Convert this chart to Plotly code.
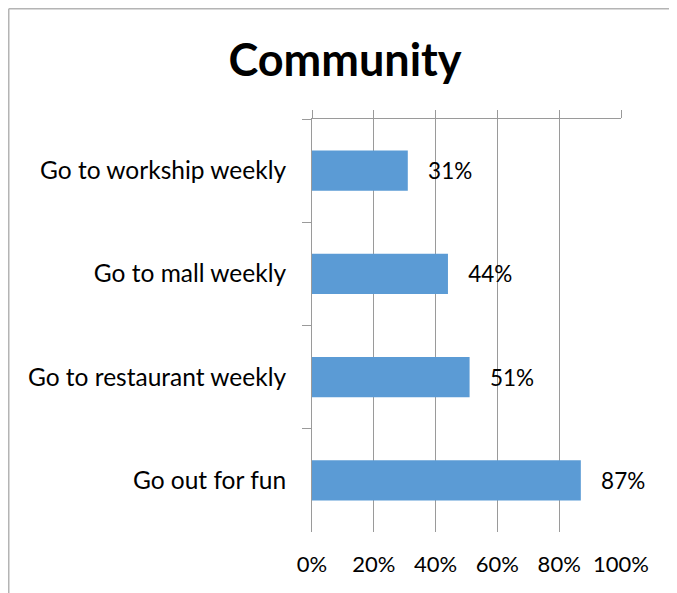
import plotly.graph_objects as go

categories = ["Go to workship weekly", "Go to mall weekly", "Go to restaurant weekly", "Go out for fun"]
values = [0.31, 0.44, 0.51, 0.87]
tick_vals = [0, 0.2, 0.4, 0.6, 0.8, 1.0]
tick_text = ["0%", "20%", "40%", "60%", "80%", "100%"]

FONT = "Lato"
GRID = "#9a9a9a"
W, H = 677, 593
# figure is offset by the page's 8px body margin
L, T = 304, 111
PW, PH = 309, 413
R = W - L - PW
B = H - T - PH

fig = go.Figure()
fig.add_trace(go.Bar(
    x=values, y=categories, orientation="h",
    marker=dict(color="#5B9BD5", line=dict(width=0)),
    text=["\u00a0\u00a0\u00a0" + f"{v:.0%}" for v in values],
    textposition="outside", cliponaxis=False,
    textfont=dict(family=FONT, size=22.5, color="#000000"),
    hoverinfo="skip", showlegend=False,
))
# invisible trace to carry the bottom label axis
fig.add_trace(go.Scatter(
    x=values, y=categories, mode="none", xaxis="x2",
    hoverinfo="skip", showlegend=False,
))

fx0 = (0.75 - L) / PW
fy0 = (H - B - 0.75) / PH
fig.update_layout(
    width=W, height=H,
    margin=dict(l=L, r=R, t=T, b=B, pad=0),
    paper_bgcolor="white", plot_bgcolor="white",
    bargap=0.61,
    title=dict(text="<b>Community</b>", x=337 / W, xanchor="center", xref="container",
               y=1 - 52 / H, yref="container", yanchor="middle",
               font=dict(family=FONT, size=45, color="#000000")),
    xaxis=dict(range=[0, 1], side="top", tickvals=tick_vals, showticklabels=False,
               showgrid=True, gridcolor=GRID, gridwidth=1,
               showline=True, linecolor=GRID, linewidth=1,
               ticks="outside", ticklen=8, tickcolor=GRID, zeroline=False),
    xaxis2=dict(range=[0, 1], overlaying="x", side="bottom", tickvals=tick_vals,
                ticktext=tick_text, showgrid=False, showline=False, ticks="",
                ticklabelstandoff=17, zeroline=False,
                tickfont=dict(family=FONT, size=22, color="#000000")),
    yaxis=dict(autorange="reversed", type="category", categoryorder="array",
               categoryarray=categories, showline=True, linecolor=GRID, linewidth=1,
               ticks="outside", tickson="boundaries", ticklen=9, tickcolor=GRID,
               showgrid=False, ticklabelstandoff=20,
               tickfont=dict(family=FONT, size=24.5, color="#000000")),
    shapes=[
        dict(type="line", xref="paper", yref="paper",
             x0=fx0, x1=(W + 5 - L) / PW, y0=fy0, y1=fy0,
             line=dict(color="#b4b4b4", width=1.5)),
        dict(type="line", xref="paper", yref="paper",
             x0=fx0, x1=fx0, y0=fy0, y1=-(B + 5) / PH,
             line=dict(color="#b4b4b4", width=1.5)),
    ],
)

fig.write_html("out.html")
